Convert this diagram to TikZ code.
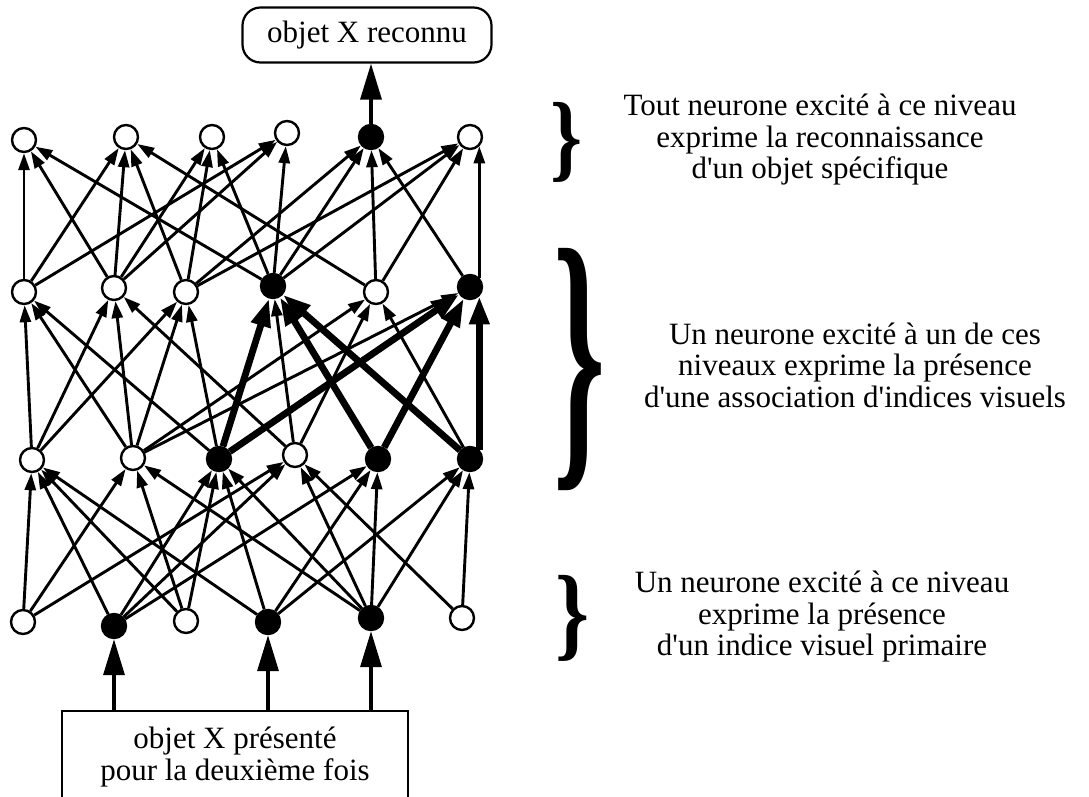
\documentclass[tikz,border=0pt]{standalone}
\usepackage{fontspec}
\setmainfont{Liberation Serif}
\usepackage{graphicx}
\usetikzlibrary{arrows.meta}

\begin{document}
\begin{tikzpicture}[x=1pt,y=-1pt,
    neuron/.style={draw, circle, line width=2.4pt, minimum size=24pt, inner sep=0pt},
    active/.style={neuron, fill=black},
    link/.style={-{Triangle[length=17pt,width=11pt]}, line width=2.9pt},
    strong/.style={-{Triangle[length=28pt,width=19pt]}, line width=6.8pt},
    signal/.style={-{Triangle[length=36pt,width=21pt]}, line width=3.4pt},
    legend/.style={align=center, font=\fontsize{31}{31.5}\selectfont}]
    \useasboundingbox (0,0) rectangle (1089,796);

    % primary cues
    \node[neuron] (p 1) at (23,622) {};
    \node[active] (p 2) at (114,626) {};
    \node[neuron] (p 3) at (186,621) {};
    \node[active] (p 4) at (268,622) {};
    \node[active] (p 5) at (371,618) {};
    \node[neuron] (p 6) at (462,618) {};

    % associations, first level
    \node[neuron] (a 1) at (32,460) {};
    \node[neuron] (a 2) at (133,458) {};
    \node[active] (a 3) at (219,459) {};
    \node[neuron] (a 4) at (295,455) {};
    \node[active] (a 5) at (378,459) {};
    \node[active] (a 6) at (470,459) {};

    % associations, second level
    \node[neuron] (b 1) at (24,292) {};
    \node[neuron] (b 2) at (114,288) {};
    \node[neuron] (b 3) at (186,292) {};
    \node[active] (b 4) at (273,286) {};
    \node[neuron] (b 5) at (376,292) {};
    \node[active] (b 6) at (470,287) {};

    % objects
    \node[neuron] (o 1) at (24,140) {};
    \node[neuron] (o 2) at (126,137) {};
    \node[neuron] (o 3) at (212,137) {};
    \node[neuron] (o 4) at (287,133) {};
    \node[active] (o 5) at (371,137) {};
    \node[neuron] (o 6) at (470,137) {};

    \node[draw, line width=2.2pt, rounded corners=18pt, minimum width=249pt, minimum height=55pt,
        font=\fontsize{31}{31.5}\selectfont] (goal) at (367,35) {objet X reconnu};
    \node[draw, line width=2.2pt, minimum width=346pt, minimum height=92pt, legend] (input) at (235,757)
        {objet X présenté\\pour la deuxième fois};

    \draw[link] (p 1) edge (a 1) edge (a 2) edge (a 4);
    \draw[link] (p 2) edge (a 1) edge (a 3) edge (a 4) edge (a 5);
    \draw[link] (p 3) edge (a 1) edge (a 2) edge (a 3);
    \draw[link] (p 4) edge (a 1) edge (a 3) edge (a 5) edge (a 6);
    \draw[link] (p 5) edge (a 2) edge (a 3) edge (a 4) edge (a 5) edge (a 6);
    \draw[link] (p 6) edge (a 4) edge (a 6);

    \draw[link] (a 1) edge (b 1) edge (b 2) edge (b 3);
    \draw[link] (a 2) edge (b 1) edge (b 2) edge (b 3) edge (b 5) edge (b 6);
    \draw[link] (a 3) edge (b 1) edge (b 3);
    \draw[link] (a 4) edge (b 2) edge (b 4) edge (b 5);
    \draw[link] (a 6) edge (b 5);
    \draw[strong] (a 3) edge (b 4) edge (b 6);
    \draw[strong] (a 5) edge (b 4) edge (b 6);
    \draw[strong] (a 6) edge (b 4);
    \draw[strong] (a 6.45) -- (b 6.-45);

    \draw[link] (b 1) edge (o 1) edge (o 2) edge (o 4);
    \draw[link] (b 2) edge (o 1) edge (o 2) edge (o 3) edge (o 4);
    \draw[link] (b 3) edge (o 2) edge (o 3) edge (o 5) edge (o 6);
    \draw[link] (b 4) edge (o 1) edge (o 3) edge (o 4) edge (o 5) edge (o 6);
    \draw[link] (b 5) edge (o 2) edge (o 5) edge (o 6);
    \draw[link] (b 6) edge (o 5);
    \draw[link] (b 6.45) -- (o 6.-45);

    \draw[signal] (p 2 |- input.north) -- (p 2);
    \draw[signal] (p 4 |- input.north) -- (p 4);
    \draw[signal] (p 5 |- input.north) -- (p 5);
    \draw[signal] (o 5) -- (o 5 |- goal.south);

    % braces and comments
    \node[inner sep=0pt] (brace top) at (567,142) {\resizebox*{32pt}{80pt}{\bfseries\}}};
    \node[inner sep=0pt] (brace mid) at (580,370) {\resizebox*{52pt}{242pt}{\bfseries\}}};
    \node[inner sep=0pt] (brace low) at (573,618) {\resizebox*{34pt}{86pt}{\bfseries\}}};
    \node[legend] (text top) at (820,140) {Tout neurone excité à ce niveau\\exprime la reconnaissance\\d\textquotesingle un objet spécifique};
    \node[legend] (text mid) at (855,365) {Un neurone excité à un de ces\\niveaux exprime la présence\\d\textquotesingle une association d\textquotesingle indices visuels};
    \node[legend] (text low) at (822,617) {Un neurone excité à ce niveau\\exprime la présence\\d\textquotesingle un indice visuel primaire};
\end{tikzpicture}
\end{document}
